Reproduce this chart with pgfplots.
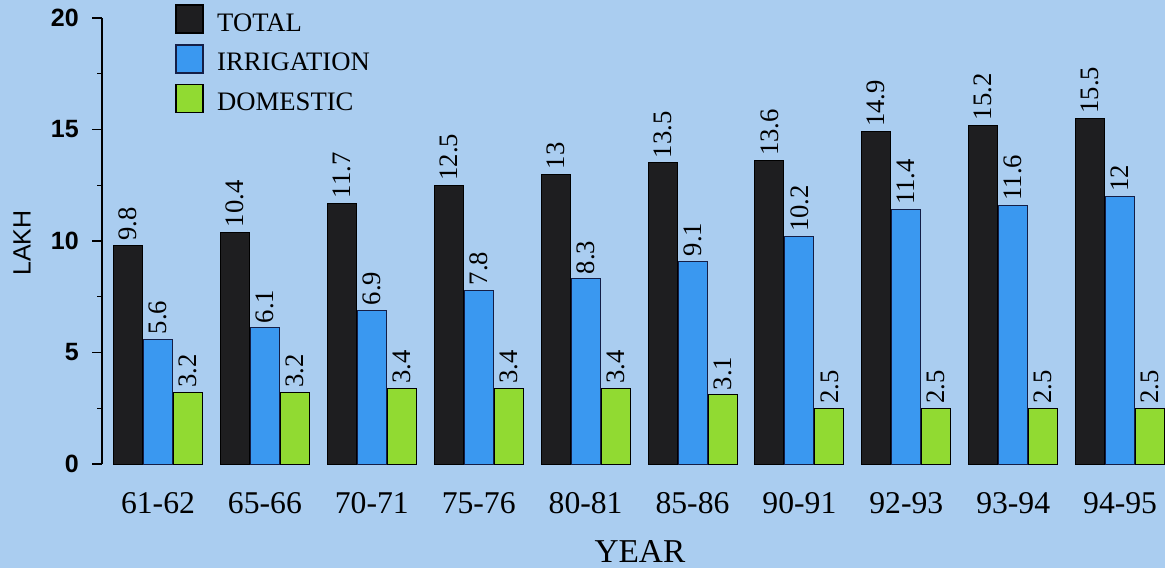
\documentclass[border=0pt]{standalone}
\usepackage{fontspec}
\setmainfont{Liberation Serif}
\setsansfont{Liberation Sans}
\usepackage{pgfplots}
\usepackage{pgfplotstable}
\pgfplotsset{compat=1.18}
\pgfplotsset{/pgfplots/ybar legend/.style={/pgfplots/legend image code/.code={\draw[##1,line width=0.9pt] (0pt,-1.2pt) rectangle (16.2pt,15.6pt);}}}
\definecolor{bg}{RGB}{170,205,240}
\definecolor{tot}{RGB}{30,30,32}
\definecolor{irr}{RGB}{58,152,240}
\definecolor{dom}{RGB}{145,218,50}
\definecolor{navy}{RGB}{20,30,70}
\pgfplotstableread{
x t i d
0 9.8 5.6 3.2
1 10.4 6.1 3.2
2 11.7 6.9 3.4
3 12.5 7.8 3.4
4 13 8.3 3.4
5 13.5 9.1 3.1
6 13.6 10.2 2.5
7 14.9 11.4 2.5
8 15.2 11.6 2.5
9 15.5 12 2.5
}\data
\begin{document}
\begin{tikzpicture}
\fill[bg] (0,0) rectangle (699pt,340.8pt);
\begin{axis}[
  at={(61.2pt,62.4pt)}, anchor=south west,
  scale only axis, width=637.8pt, height=267.6pt,
  xmin=-0.524, xmax=9.42, ymin=0, ymax=20,
  axis x line*=bottom, axis y line*=left,
  x axis line style={draw=none},
  y axis line style={line width=1pt,-},
  clip=false,
  ybar=0.6pt, bar width=17.4pt,
  xtick={0,...,9},
  xticklabels={61-62,65-66,70-71,75-76,80-81,85-86,90-91,92-93,93-94,94-95},
  xtick style={draw=none},
  xticklabel style={font=\fontsize{19}{22}\selectfont, anchor=north, inner sep=0pt, yshift=-10.8pt},
  ytick={0,5,10,15,20},
  minor y tick num=1,
  tick align=outside,
  ytick style={line width=0.8pt, black},
  major tick length=6pt, minor tick length=3pt,
  /pgf/number format/assume math mode=true,
  yticklabel style={font=\fontsize{15}{18}\selectfont\sffamily\bfseries, anchor=east, inner sep=0pt, xshift=-7.8pt},
  xlabel={YEAR},
  xlabel style={at={(axis description cs:0.506,-0.197)}, anchor=center, font=\fontsize{20}{24}\selectfont, inner sep=0pt},
  ylabel={LAKH},
  ylabel style={at={(axis description cs:-0.0753,0.4955)}, anchor=center, font=\fontsize{15}{18}\selectfont\sffamily, inner sep=0pt},
  point meta=explicit symbolic,
  nodes near coords,
  every node near coord/.append style={rotate=90, anchor=west, inner sep=2.6pt, font=\fontsize{16}{19}\selectfont, text=black},
  legend style={at={(axis description cs:0.0687,1.0314)}, anchor=north west, draw=none, fill=none, inner sep=0pt, row sep=6.2pt, column sep=8pt, nodes={inner sep=0pt, anchor=base west}, font=\fontsize{16}{19}\selectfont},
  legend cell align=left,
]
\addplot[fill=tot, draw=black, line width=0.6pt] table[x=x, y=t, meta=t]{\data};
\addplot[fill=irr, draw=navy, line width=0.6pt] table[x=x, y=i, meta=i]{\data};
\addplot[fill=dom, draw=black, line width=0.6pt] table[x=x, y=d, meta=d]{\data};
\legend{TOTAL, IRRIGATION, DOMESTIC}
\end{axis}
\pgfresetboundingbox
\useasboundingbox (0,0) rectangle (699pt,340.8pt);
\end{tikzpicture}
\end{document}
